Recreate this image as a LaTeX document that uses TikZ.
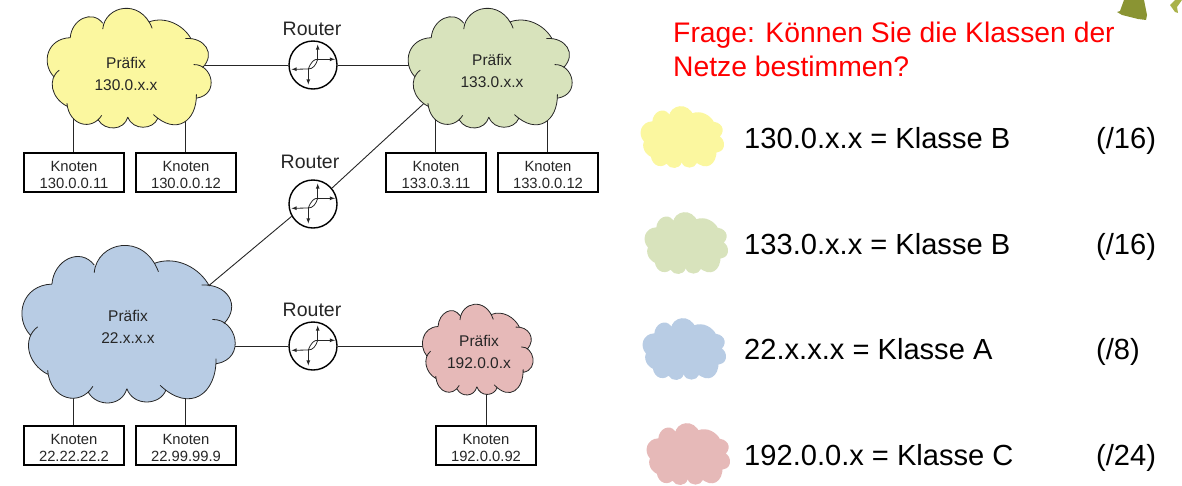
\documentclass[tikz,border=0pt]{standalone}
\usepackage{fontspec}
\setmainfont{Liberation Sans}
\usetikzlibrary{backgrounds}
\definecolor{cyel}{HTML}{FBF79F}
\definecolor{cgre}{HTML}{D8E3BC}
\definecolor{cblu}{HTML}{B8CCE4}
\definecolor{cpin}{HTML}{E6B9B8}
\definecolor{ink}{HTML}{262626}
\definecolor{footdark}{HTML}{8A9433}
\definecolor{footlight}{HTML}{A9B24A}
\newcommand{\lobes}{
(155,162) .. controls (160,90) and (240,50) .. (282,105)
(282,128) .. controls (290,35) and (430,5) .. (475,125)
(462,100) .. controls (530,75) and (600,115) .. (628,168)
(605,165) .. controls (680,160) and (725,225) .. (672,280)
(637,268) .. controls (710,265) and (740,385) .. (650,400)
(648,385) .. controls (650,490) and (570,550) .. (480,465)
(497,480) .. controls (480,525) and (400,530) .. (380,475)
(380,475) .. controls (365,530) and (290,530) .. (265,487)
(278,468) .. controls (240,530) and (150,510) .. (142,420)
(142,432) .. controls (80,400) and (65,325) .. (112,290)
(90,315) .. controls (40,260) and (65,165) .. (155,162)
}
\newcommand{\wedges}{
(155,162) .. controls (160,90) and (240,50) .. (282,105) -- (386,280) -- cycle
(282,128) .. controls (290,35) and (430,5) .. (475,125) -- (386,280) -- cycle
(462,100) .. controls (530,75) and (600,115) .. (628,168) -- (386,280) -- cycle
(605,165) .. controls (680,160) and (725,225) .. (672,280) -- (386,280) -- cycle
(637,268) .. controls (710,265) and (740,385) .. (650,400) -- (386,280) -- cycle
(648,385) .. controls (650,490) and (570,550) .. (480,465) -- (386,280) -- cycle
(497,480) .. controls (480,525) and (400,530) .. (380,475) -- (386,280) -- cycle
(380,475) .. controls (365,530) and (290,530) .. (265,487) -- (386,280) -- cycle
(278,468) .. controls (240,530) and (150,510) .. (142,420) -- (386,280) -- cycle
(142,432) .. controls (80,400) and (65,325) .. (112,290) -- (386,280) -- cycle
(90,315) .. controls (40,260) and (65,165) .. (155,162) -- (386,280) -- cycle
}
\newcommand{\cloudfill}[5]{%
\begin{scope}[shift={(#1,#2)},xscale=#3/637,yscale=#4/473,shift={(-68,-45)}]
\fill[#5] \wedges;
\end{scope}}
\newcommand{\cloudshape}[5]{%
\cloudfill{#1}{#2}{#3}{#4}{#5}
\begin{scope}[shift={(#1,#2)},xscale=#3/637,yscale=#4/473,shift={(-68,-45)}]
\draw[cloudline] \lobes;
\end{scope}}
\newcommand{\routerglyph}[1]{%
\begin{scope}[shift={(#1.center)}]
\draw[glyph,-latex] (4.7,-5.7) -- (4.7,-20.5);
\draw[glyph,-latex] (4.7,-5.7) -- (22,-5.7);
\draw[glyph,-latex] (-4.7,4) -- (-21.5,4.3);
\draw[glyph,-latex] (-4.7,4) -- (-4.7,19.5);
\draw[glyph] (-4.7,4) .. controls (-2,-3) and (1,-6) .. (4.7,-5.7) .. controls (3,0) and (0,4) .. (-4.7,4);
\end{scope}}
\newcommand{\hostlabel}[2]{\makebox[0pt]{\raisebox{1.5pt}[0pt][0pt]{#1}}\makebox[0pt]{\raisebox{-15.5pt}[0pt][0pt]{#2}}}
\tikzset{
 x=1pt,y=-1pt,
 cloudline/.style={draw=ink,line width=0.8pt},
 glyph/.style={draw=ink,line width=0.8pt},
 link/.style={draw=ink,line width=0.9pt},
 router/.style={circle,draw=black,line width=1.4pt,fill=white,minimum size=48pt,inner sep=0pt},
 hostbox/.style={draw=black,line width=1.1pt,fill=white,minimum width=100pt,minimum height=39pt,inner sep=0pt,text=ink,font=\fontsize{14.8}{17}\selectfont},
 cloudtext/.style={align=center,inner sep=0pt,text=ink,font=\fontsize{15.5}{22}\selectfont},
 rlabel/.style={inner sep=0pt,text=ink,font=\fontsize{19.5}{22}\selectfont},
 legendtext/.style={anchor=base west,inner sep=0pt,text=black,font=\fontsize{29.1}{32}\selectfont},
 question/.style={anchor=base west,inner sep=0pt,text=red,font=\fontsize{28.3}{32}\selectfont},
}
\begin{document}
\begin{tikzpicture}
\useasboundingbox (0,0) rectangle (1182,485);
% foot fragments
\fill[footdark] (1124,0) -- (1120,11) -- (1117,12) -- (1122,15) -- (1130,17) -- (1138,19) -- (1146,20) -- (1147,15) -- (1144,0) -- cycle;
\fill[footlight] (1175,0) -- (1170,5) -- (1175,12) -- (1178,13) -- (1177,7) -- (1182,0) -- cycle;
% clouds
\cloudshape{48}{8}{163}{120}{cyel}
\cloudshape{409}{8}{163}{120}{cgre}
\cloudshape{23}{245}{212}{158}{cblu}
\cloudshape{423}{304}{110}{91}{cpin}
% cloud nodes
\node[cloudtext] (pA) at (126,74) {Präfix\\130.0.x.x};
\node[cloudtext] (pB) at (492,71) {Präfix\\133.0.x.x};
\node[cloudtext] (pC) at (128,327) {Präfix\\22.x.x.x};
\node[cloudtext] (pD) at (479,352) {Präfix\\192.0.0.x};
% routers
\node[router] (r1) at (313,65) {};
\node[router] (r2) at (313,204) {};
\node[router] (r3) at (313,346) {};
\routerglyph{r1}\routerglyph{r2}\routerglyph{r3}
\node[rlabel] (l1) at (312,29) {Router};
\node[rlabel] (l2) at (310,162) {Router};
\node[rlabel] (l3) at (312,310) {Router};
% hosts
\node[hostbox] (k1) at (74,172.5) {\hostlabel{Knoten}{130.0.0.11}};
\node[hostbox] (k2) at (186,172.5) {\hostlabel{Knoten}{130.0.0.12}};
\node[hostbox] (k3) at (436,172.5) {\hostlabel{Knoten}{133.0.3.11}};
\node[hostbox] (k4) at (548,172.5) {\hostlabel{Knoten}{133.0.0.12}};
\node[hostbox] (k5) at (74,445.5) {\hostlabel{Knoten}{22.22.22.2}};
\node[hostbox] (k6) at (186,445.5) {\hostlabel{Knoten}{22.99.99.9}};
\node[hostbox] (k7) at (486,445.5) {\hostlabel{Knoten}{192.0.0.92}};
% edge points hidden behind the clouds
\coordinate (gIn) at (432,96);
\coordinate (bIn) at (200,293);
% connectors
\begin{scope}[on background layer]
\draw[link] (r1.west) -- (r1.west -| pA.center);
\draw[link] (r1.east) -- (r1.east -| pB.center);
\draw[link] (r2.210) -- (bIn);
\draw[link] (r2.40) -- (gIn);
\draw[link] (r3.west) -- (r3.west -| pC.center);
\draw[link] (r3.east) -- (r3.east -| pD.center);
\draw[link] ([xshift=-1pt]k1.north) -- ([xshift=-1pt]k1.north |- pA.center);
\draw[link] ([xshift=-1pt]k2.north) -- ([xshift=-1pt]k2.north |- pA.center);
\draw[link] ([xshift=-1pt]k3.north) -- ([xshift=-1pt]k3.north |- pB.center);
\draw[link] ([xshift=-1pt]k4.north) -- ([xshift=-1pt]k4.north |- pB.center);
\draw[link] ([xshift=-1pt]k5.north) -- ([xshift=-1pt]k5.north |- pC.center);
\draw[link] ([xshift=-1pt]k6.north) -- ([xshift=-1pt]k6.north |- pC.center);
\draw[link] (k7.north) -- (k7.north |- pD.center);
\end{scope}
% question
\node[question] (q1) at (673,42) {Frage: Können Sie die Klassen der};
\node[question] (q2) at (673,76) {Netze bestimmen?};
% legend
\cloudfill{641}{106}{83}{62}{cyel}
\cloudfill{645}{212}{83}{62}{cgre}
\cloudfill{643}{318}{83}{62}{cblu}
\cloudfill{647}{423}{83}{62}{cpin}
\node[legendtext] (t1) at (744,148) {130.0.x.x = Klasse B};
\node[legendtext] (t2) at (744,254) {133.0.x.x = Klasse B};
\node[legendtext] (t3) at (744,359) {22.x.x.x = Klasse A};
\node[legendtext] (t4) at (744,465) {192.0.0.x = Klasse C};
\node[legendtext] (s1) at (1096,148) {(/16)};
\node[legendtext] (s2) at (1096,254) {(/16)};
\node[legendtext] (s3) at (1096,359) {(/8)};
\node[legendtext] (s4) at (1096,465) {(/24)};
\end{tikzpicture}
\end{document}
